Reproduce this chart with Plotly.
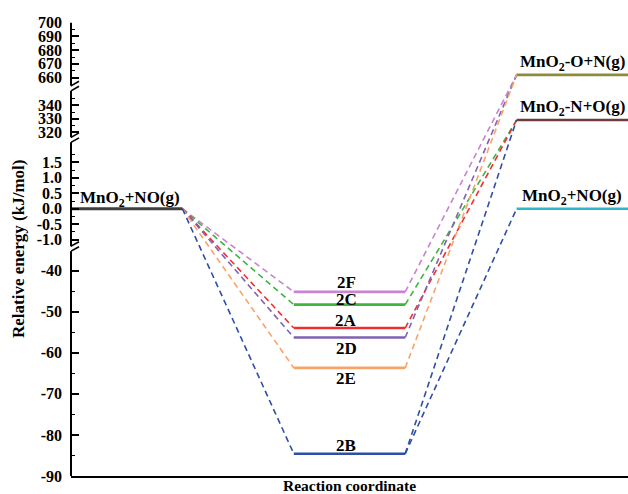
import plotly.graph_objects as go

# ---------------- data ----------------
reactant_label = "MnO<sub>2</sub>+NO(g)"
reactant_energy = 0.0
reactant_color = "#3f3f3f"

intermediate_labels = ["2F", "2C", "2A", "2D", "2E", "2B"]
intermediate_energies = [-45.2, -48.3, -54.0, -56.3, -63.7, -84.6]
intermediate_colors = ["#c983d0", "#3fb53f", "#ee3030", "#8161b3", "#f8a36a", "#2f4ea6"]
intermediate_label_shift = [9, 5, 8, -11, -11, 8]
intermediate_targets = [[0], [1], [1], [0], [0], [1, 2]]

product_labels = ["MnO<sub>2</sub>-O+N(g)", "MnO<sub>2</sub>-N+O(g)", "MnO<sub>2</sub>+NO(g)"]
product_energies = [662.0, 329.0, 0.0]
product_colors = ["#8c8c3a", "#6e3c3c", "#2bb8c9"]

# broken y axis segments (energy ranges) and their scales (px per kJ/mol)
seg_lo = [-90.0, -1.21, 316.0, 654.0]
seg_hi = [-35.3, 2.15, 351.0, 700.0]
seg_scale = [4.11, 30.9, 1.33, 1.37]
seg_gap = 5.0
seg_major_ticks = [
    [-90, -80, -70, -60, -50, -40],
    [-1.0, -0.5, 0.0, 0.5, 1.0, 1.5],
    [320, 330, 340],
    [660, 670, 680, 690, 700],
]
seg_minor_ticks = [
    [-85, -75, -65, -55, -45],
    [-0.75, -0.25, 0.25, 0.75, 1.25, 1.75],
    [325, 335, 345],
    [665, 675, 685, 695],
]

# ---------------- broken-axis scale ----------------
seg_start = []
d = 0.0
for lo, hi, s in zip(seg_lo, seg_hi, seg_scale):
    seg_start.append(d)
    d = d + (hi - lo) * s + seg_gap
seg_end = [st + (hi - lo) * s for st, lo, hi, s in zip(seg_start, seg_lo, seg_hi, seg_scale)]


def disp(e):
    for lo, hi, s, st in zip(seg_lo, seg_hi, seg_scale, seg_start):
        if lo - 1e-9 <= e <= hi + 1e-9:
            return st + (e - lo) * s
    raise ValueError(e)


def fmt(v):
    if isinstance(v, float):
        return f"{v:.1f}"
    return str(v)


tickvals, ticktext, minorvals = [], [], []
for majors, minors in zip(seg_major_ticks, seg_minor_ticks):
    for v in majors:
        tickvals.append(disp(v))
        ticktext.append(fmt(v))
    for v in minors:
        minorvals.append(disp(v))


# reaction stages: stage k level spans x in [2k, 2k+1]
def stage_x(k):
    return 2 * k, 2 * k + 1


fig = go.Figure()
dash = "6px,4px"

r0, r1 = stage_x(0)
i0, i1 = stage_x(1)
p0, p1 = stage_x(2)
# dashed connectors, reactant -> intermediates
for e, c in zip(intermediate_energies, intermediate_colors):
    fig.add_trace(go.Scatter(x=[r1, i0], y=[disp(reactant_energy), disp(e)], mode="lines",
                             line=dict(color=c, width=1.6, dash=dash), hoverinfo="skip"))
# intermediates -> products
for e, c, tg in zip(intermediate_energies, intermediate_colors, intermediate_targets):
    for t in tg:
        fig.add_trace(go.Scatter(x=[i1, p0], y=[disp(e), disp(product_energies[t])], mode="lines",
                                 line=dict(color=c, width=1.6, dash=dash), hoverinfo="skip"))

# levels
fig.add_trace(go.Scatter(x=[r0, r1], y=[disp(reactant_energy)] * 2, mode="lines",
                         line=dict(color=reactant_color, width=3), hoverinfo="skip"))
for e, c in zip(intermediate_energies, intermediate_colors):
    fig.add_trace(go.Scatter(x=[i0, i1], y=[disp(e)] * 2, mode="lines",
                             line=dict(color=c, width=2.6), hoverinfo="skip"))
for e, c in zip(product_energies, product_colors):
    fig.add_trace(go.Scatter(x=[p0, p1], y=[disp(e)] * 2, mode="lines",
                             line=dict(color=c, width=2.6), hoverinfo="skip"))

font_b = dict(family="Liberation Serif", size=16, color="black", weight="bold")
lab_font = dict(family="Liberation Serif", size=17, color="black", weight="bold")

fig.add_annotation(x=r1, y=disp(reactant_energy), text=reactant_label, showarrow=False,
                   xanchor="right", yanchor="middle", yshift=10, font=lab_font)
for lbl, e, sh in zip(intermediate_labels, intermediate_energies, intermediate_label_shift):
    fig.add_annotation(x=(i0 + i1) / 2 - 0.03, y=disp(e), text=lbl, showarrow=False,
                       yanchor="middle", yshift=sh, font=lab_font)
for lbl, e in zip(product_labels, product_energies):
    fig.add_annotation(x=(p0 + p1) / 2, y=disp(e), text=lbl, showarrow=False,
                       yanchor="middle", yshift=12, font=lab_font)

# axis segments and break marks
for st, en in zip(seg_start, seg_end):
    fig.add_shape(type="line", xref="paper", yref="y", x0=0, x1=0, y0=st, y1=en,
                  line=dict(color="black", width=2))
for i in range(len(seg_start)):
    ends = []
    if i > 0:
        ends.append(seg_start[i])
    if i < len(seg_start) - 1:
        ends.append(seg_end[i])
    for yv in ends:
        fig.add_shape(type="line", xref="x", yref="y", xsizemode="pixel", ysizemode="pixel",
                      xanchor=0, yanchor=yv, x0=-8, x1=8, y0=-4.5, y1=4.5,
                      line=dict(color="black", width=1.6))

fig.add_annotation(xref="paper", yref="paper", x=0.5, y=0, yshift=-9.5, text="Reaction coordinate",
                   showarrow=False, yanchor="middle", font=dict(family="Liberation Serif", size=15.5,
                                                                 color="black", weight="bold"))
fig.add_annotation(xref="paper", yref="paper", x=0, y=0.5, xshift=-53, text="Relative energy (kJ/mol)",
                   showarrow=False, textangle=-90, xanchor="center", yanchor="middle",
                   font=dict(family="Liberation Serif", size=17, color="black", weight="bold"))

fig.update_layout(
    width=628, height=494,
    margin=dict(l=71, r=0, t=22, b=18, autoexpand=False),
    plot_bgcolor="white", paper_bgcolor="white",
    showlegend=False,
    xaxis=dict(range=[0, 5], showgrid=False, zeroline=False, showticklabels=False, ticks="",
               showline=True, linecolor="black", linewidth=2, automargin=False),
    yaxis=dict(range=[0, 454], showgrid=False, zeroline=False, showline=False, automargin=False,
               tickmode="array", tickvals=tickvals, ticktext=ticktext,
               ticks="inside", ticklen=8, tickwidth=1.6, tickcolor="black",
               ticklabelstandoff=8,
               tickfont=font_b,
               minor=dict(tickmode="array", tickvals=minorvals, ticks="inside", ticklen=4,
                          tickwidth=1.4, tickcolor="black")),
)

fig.write_html("out.html", config={"displayModeBar": False},
               post_script="document.body.style.margin='0';document.body.style.overflow='hidden';")
